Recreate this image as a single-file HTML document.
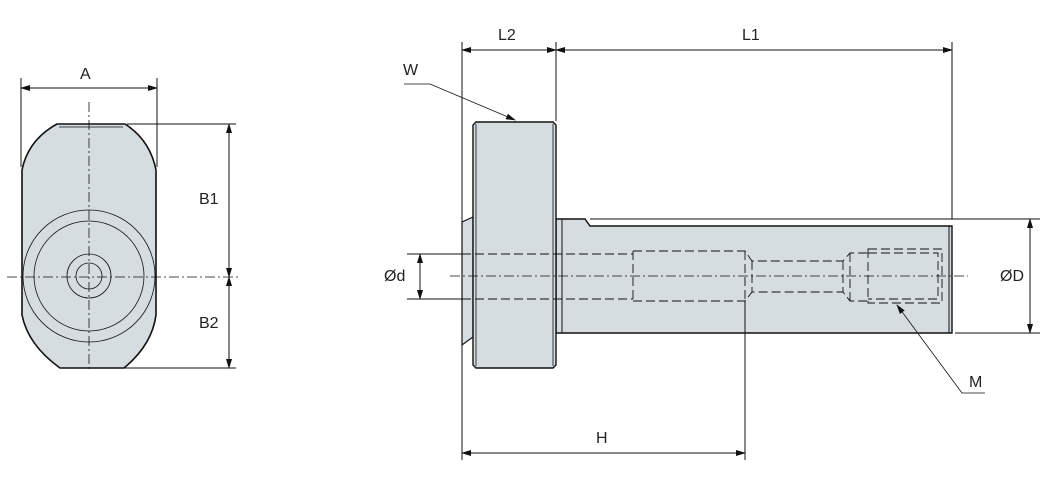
<!DOCTYPE html>
<html><head><style>html,body{margin:0;padding:0;background:#fff}svg{display:block}text{font-family:"Liberation Sans",sans-serif;font-size:16px;fill:#222}</style></head><body>
<svg width="1052" height="481" viewBox="0 0 1052 481" xmlns="http://www.w3.org/2000/svg">
<defs><marker id="a" markerWidth="10" markerHeight="8" refX="9" refY="4" orient="auto-start-reverse" markerUnits="userSpaceOnUse"><path d="M0,1 L10,4 L0,7 Z" fill="#111"/></marker></defs>
<g stroke="#111" stroke-width="1" fill="none">
<path d="M57,124 L125,124 Q150,140 156,170 L156,315 Q152,345 124,368 L60,368 Q28,345 22,315 L22,170 Q28,140 57,124 Z" fill="#d6dde1" stroke-width="1.6"/>
<path d="M59,127 L123,127" stroke-width="0.8"/>
<circle cx="89" cy="276" r="66" stroke-width="0.8"/>
<circle cx="89" cy="276" r="55" stroke-width="0.8"/>
<circle cx="89" cy="276" r="22" stroke-width="0.8"/>
<circle cx="89" cy="276" r="13" stroke-width="0.8"/>
<path d="M89,102 V372" stroke-dasharray="10,3,2,3" stroke-width="0.8"/>
<path d="M7,277 H240" stroke-dasharray="10,3,2,3" stroke-width="0.8"/>
<path d="M21,78 V167 M157,78 V167 M127,124 H236 M122,368 H236"/>
<path d="M21,88 H157" marker-start="url(#a)" marker-end="url(#a)"/>
<path d="M229,124 V277" marker-start="url(#a)" marker-end="url(#a)"/>
<path d="M229,277 V368" marker-start="url(#a)" marker-end="url(#a)"/>
<path d="M462,222 L473,217 V337 L462,345 Z" fill="#d6dde1" stroke-width="1.2"/>
<path d="M556,219 H585 L590,226 H952 V333 H556 Z" fill="#d6dde1" stroke-width="1.4"/>
<path d="M590,219 H1040 M562,219 V333 M949,226 V333" stroke-width="1"/>
<path d="M476,122 H553 L556,125 V365 L553,368 H476 L473,365 V125 Z" fill="#d6dde1" stroke-width="1.4"/>
<path d="M476,124 V366 M553,124 V366" stroke-width="0.8"/>
<g stroke-dasharray="9,4" stroke-width="0.9">
<path d="M462,254 H633 M462,299 H633"/>
<path d="M633,251 H745 L752,261 H843 L850,253 H868 M633,301 H745 L752,292 H843 L850,301 H868"/>
<path d="M633,251 V301 M745,251 V301 M752,261 V292 M843,261 V292 M850,253 V301"/>
<path d="M868,249 H942 V303 H868 Z M868,253 H938 V299 H868"/>
</g>
<path d="M450,276 H968" stroke-dasharray="10,3,2,3" stroke-width="0.8"/>
<path d="M407,254 H462 M407,299 H462"/>
<path d="M420,254 V299" marker-start="url(#a)" marker-end="url(#a)"/>
<path d="M462,42 V460 M556,42 V121 M952,42 V219 M745,301 V460 M955,333 H1040"/>
<path d="M462,50 H556" marker-start="url(#a)" marker-end="url(#a)"/>
<path d="M556,50 H952" marker-start="url(#a)" marker-end="url(#a)"/>
<path d="M462,453 H745" marker-start="url(#a)" marker-end="url(#a)"/>
<path d="M1030,219 V333" marker-start="url(#a)" marker-end="url(#a)"/>
<path d="M404,84 H430 L515,120" stroke-width="0.8" marker-end="url(#a)"/>
<path d="M985,393 H962 L897,305" stroke-width="0.8" marker-end="url(#a)"/>
</g>
<text x="80" y="79">A</text>
<text x="199" y="204">B1</text>
<text x="199" y="328">B2</text>
<text x="498" y="40">L2</text>
<text x="742" y="40">L1</text>
<text x="596" y="443">H</text>
<text x="384" y="281">Ød</text>
<text x="1000" y="281">ØD</text>
<text x="403" y="75">W</text>
<text x="969" y="387">M</text>
</svg>
</body></html>
